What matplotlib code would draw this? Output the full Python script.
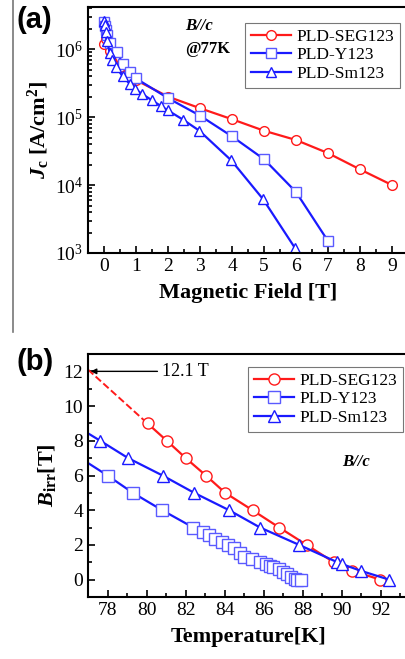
import matplotlib
matplotlib.use("Agg")
import matplotlib.pyplot as plt
from matplotlib.lines import Line2D
from matplotlib.ticker import MultipleLocator, LogLocator, NullFormatter

plt.rcParams['font.family'] = ['Liberation Serif', 'DejaVu Serif']
plt.rcParams['mathtext.fontset'] = 'custom'
plt.rcParams['mathtext.rm'] = 'Liberation Serif'
plt.rcParams['mathtext.it'] = 'Liberation Serif:italic:bold'
plt.rcParams['mathtext.bf'] = 'Liberation Serif:bold'

# (a) Jc vs field at 77 K
seg_B = [0, 0.05, 0.2, 0.5, 1, 2, 3, 4, 5, 6, 7, 8, 9]
seg_Jc = [1.2e6, 1.4e6, 9.5e5, 5.5e5, 3.5e5, 2.0e5, 1.35e5, 9.3e4, 6.3e4, 4.6e4, 2.95e4, 1.7e4, 1.0e4]

y_B = [0, 0.03, 0.06, 0.1, 0.2, 0.4, 0.6, 0.8, 1, 2, 3, 4, 5, 6, 7]
y_Jc = [2.5e6, 2.2e6, 1.9e6, 1.6e6, 1.25e6, 9e5, 6e5, 4.6e5, 3.7e5, 1.9e5, 1.05e5, 5.2e4, 2.4e4, 7.9e3, 1.5e3]

sm_B = [0, 0.02, 0.05, 0.1, 0.18, 0.24, 0.37, 0.58, 0.8, 0.97, 1.18, 1.49, 1.78, 1.99, 2.48, 2.98, 3.98, 4.97, 5.96]
sm_Jc = [2.6e6, 2.3e6, 1.8e6, 1.3e6, 8.7e5, 6.9e5, 5.5e5, 4.0e5, 3.1e5, 2.6e5, 2.2e5, 1.78e5, 1.45e5, 1.26e5,
         9.1e4, 6.3e4, 2.3e4, 6.2e3, 1.2e3]

# (b) irreversibility field vs temperature
seg_T = [80.05, 81.04, 82.01, 83.04, 84.03, 85.43, 86.8, 88.2, 89.6, 90.55, 91.98]
seg_Birr = [9, 8, 7, 6, 5, 4, 3, 2, 1, 0.5, 0]
seg_ext_T = [77, 80.05]
seg_ext_B = [12.1, 9]

y_T = [77, 78.0, 79.3, 80.8, 82.4, 82.9, 83.2, 83.5, 83.85, 84.15, 84.5, 84.8, 85.0, 85.4, 85.8, 86.1, 86.3,
       86.5, 86.8, 87.0, 87.2, 87.4, 87.6, 87.7, 87.9]
y_Birr = [6.72, 6, 5, 4, 3, 2.75, 2.6, 2.35, 2.15, 2.0, 1.8, 1.55, 1.3, 1.2, 1.0, 0.9, 0.8,
          0.7, 0.6, 0.45, 0.3, 0.15, 0.05, 0, 0]

sm_T = [77, 77.63, 79.06, 80.82, 82.44, 84.23, 85.82, 87.82, 89.78, 90.0, 91.0, 92.43]
sm_Birr = [8.43, 8, 7, 6, 5, 4, 3, 2, 1, 0.9, 0.5, 0]

red = '#ff1a1a'
blue = '#1a1aff'

fig = plt.figure(figsize=(4.05, 6.59), dpi=100)

# ---------- panel (a)
ax1 = fig.add_axes([88 / 405, 1 - 253 / 659, 320 / 405, 246 / 659])
ax1.semilogy(seg_B, seg_Jc, '-o', color=red, mfc='white', mec=red, ms=7, lw=1.6, label='PLD-SEG123')
ax1.semilogy(y_B, y_Jc, '-s', color=blue, mfc='white', mec='#5a5aff', ms=6.5, lw=1.6, label='PLD-Y123')
ax1.semilogy(sm_B, sm_Jc, '-^', color=blue, mfc='white', mec=blue, ms=7.5, lw=1.6, label='PLD-Sm123')
ax1.set_xlim(-0.5, 9.5)
ax1.set_ylim(1e3, 10 ** 6.62)
ax1.xaxis.set_major_locator(MultipleLocator(1))
ax1.xaxis.set_minor_locator(MultipleLocator(0.5))
ax1.yaxis.set_minor_locator(LogLocator(base=10, subs=range(2, 10), numticks=20))
ax1.yaxis.set_minor_formatter(NullFormatter())
ax1.set_xlabel('Magnetic Field [T]', fontsize=16, fontweight='bold', labelpad=6)
ax1.set_ylabel(r'$J_\mathbf{c}$ [A/cm$^\mathbf{2}$]', fontsize=16, fontweight='bold', labelpad=2)
ax1.text(0.305, 0.905, 'B//c', transform=ax1.transAxes, fontsize=12, fontweight='bold', style='italic')
ax1.text(0.305, 0.815, '@77K', transform=ax1.transAxes, fontsize=12, fontweight='bold')
leg1 = ax1.legend(loc='upper right', bbox_to_anchor=(312 / 320, 0.935), borderaxespad=0, fontsize=12.5,
                  frameon=True, fancybox=False, edgecolor='#555555', handlelength=2.3, borderpad=0.35,
                  labelspacing=0.12, handletextpad=0.3)
leg1.get_frame().set_linewidth(0.8)

# ---------- panel (b)
ax2 = fig.add_axes([88 / 405, 1 - 597 / 659, 321 / 405, 243 / 659])
ax2.plot(seg_ext_T, seg_ext_B, '--', color=red, lw=1.4)
ax2.plot(seg_T, seg_Birr, '-o', color=red, mfc='white', mec=red, ms=8, lw=1.6, label='PLD-SEG123')
ax2.plot(y_T, y_Birr, '-s', color=blue, mfc='white', mec='#5a5aff', ms=8, lw=1.6,
         markevery=list(range(1, len(y_T))), label='PLD-Y123')
ax2.plot(sm_T, sm_Birr, '-^', color=blue, mfc='white', mec=blue, ms=9, lw=1.6,
         markevery=list(range(1, len(sm_T))), label='PLD-Sm123')
ax2.set_xlim(77, 77 + 321 / 19.52)
ax2.set_ylim(-1, 13)
ax2.xaxis.set_major_locator(MultipleLocator(2))
ax2.xaxis.set_minor_locator(MultipleLocator(1))
ax2.yaxis.set_major_locator(MultipleLocator(2))
ax2.yaxis.set_minor_locator(MultipleLocator(1))
ax2.set_xlabel('Temperature[K]', fontsize=16, fontweight='bold', labelpad=6)
ax2.set_ylabel(r'$B_\mathbf{irr}$[T]', fontsize=16, fontweight='bold', labelpad=4)
ax2.annotate('', xy=(77, 12), xytext=(80.7, 12),
             arrowprops=dict(arrowstyle='-|>', color='black', lw=1.0, mutation_scale=8))
ax2.text(80.8, 12, '12.1 T', fontsize=13, va='center', ha='left')
ax2.text(90.0, 6.8, 'B//c', fontsize=12, fontweight='bold', style='italic', va='center')
leg2 = ax2.legend(loc='upper right', bbox_to_anchor=(315 / 321, 0.947), borderaxespad=0, fontsize=12.5,
                  frameon=True, fancybox=False, edgecolor='#555555', handlelength=2.3, borderpad=0.35,
                  labelspacing=0.12, handletextpad=0.3)
leg2.get_frame().set_linewidth(0.8)

for ax in (ax1, ax2):
    for s in ax.spines.values():
        s.set_linewidth(1.5)
    ax.tick_params(which='both', direction='in', top=False, right=False, labelsize=14, width=1.2)
    ax.tick_params(which='major', length=5)
    ax.tick_params(which='minor', length=3)

fig.text(16 / 405, 1 - 20 / 659, '(a)', family='Liberation Sans', fontsize=21, fontweight='bold', va='center')
fig.text(16 / 405, 1 - 362 / 659, '(b)', family='Liberation Sans', fontsize=21, fontweight='bold', va='center')

# gray separator line on the left edge
fig.add_artist(Line2D([13 / 405, 13 / 405], [1, 1 - 332 / 659], color='#777777', lw=1.2))

fig.savefig('out.png', dpi=100)
